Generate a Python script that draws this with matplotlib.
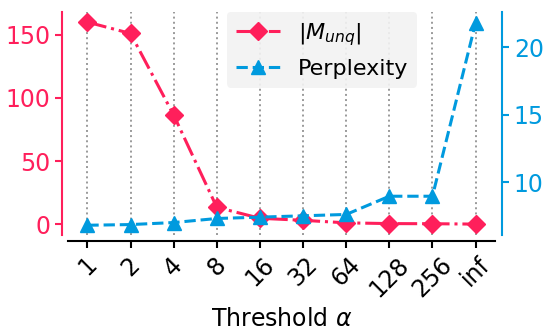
import matplotlib
matplotlib.use('Agg')
import matplotlib.pyplot as plt

thresholds = ['1', '2', '4', '8', '16', '32', '64', '128', '256', 'inf']
m_unq = [160, 151, 86.5, 13.5, 4.8, 3.2, 1.2, 0.6, 0.5, 0.2]
perplexity = [6.8, 6.85, 7.0, 7.3, 7.4, 7.5, 7.6, 8.95, 8.95, 21.8]

red = '#FF1F5B'
blue = '#009ADE'
fs = 17

fig = plt.figure(figsize=(5.5, 3.33), dpi=100)
ax = fig.add_axes([0.1236, 0.294, 0.7764, 0.67])
ax2 = ax.twinx()

# spines first (moving them resets the ticks)
for a in (ax, ax2):
    a.spines['top'].set_visible(False)
ax2.spines['left'].set_visible(False)
ax2.spines['bottom'].set_visible(False)
ax.spines['right'].set_visible(False)
ax.spines['left'].set_position(('outward', 4))
ax.spines['bottom'].set_position(('outward', 4))
ax2.spines['right'].set_position(('outward', 5))
ax.spines['left'].set_color(red)
ax2.spines['right'].set_color(blue)
for s in (ax.spines['left'], ax.spines['bottom'], ax2.spines['right']):
    s.set_linewidth(1.5)

x = list(range(len(thresholds)))
l1, = ax.plot(x, m_unq, '-.', color=red, marker='D', markersize=9.5,
              linewidth=2.2, label=r'$|M_{unq}|$', zorder=3)
l2, = ax2.plot(x, perplexity, '--', color=blue, marker='^', markersize=10.5,
               linewidth=2.2, label='Perplexity', zorder=3)

ax.set_xticks(x)
ax.set_xticklabels(thresholds, rotation=45, fontsize=fs)
ax.set_xlabel(r'Threshold $\alpha$', fontsize=fs)
ax.grid(axis='x', linestyle=':', color='gray', linewidth=1.4, alpha=0.8)
ax.set_axisbelow(True)

ax.set_ylim(-8.5, 168)
ax.set_yticks([0, 50, 100, 150])
ax2.set_ylim(6.07, 22.6)
ax2.set_yticks([10, 15, 20])

ax.tick_params(axis='y', colors=red, labelsize=fs, length=5, width=1.5)
ax.tick_params(axis='x', length=5, width=1.5)
ax2.tick_params(axis='y', colors=blue, labelsize=fs, length=5, width=1.5)

leg = ax2.legend([l1, l2], [l1.get_label(), l2.get_label()], fontsize=16,
                 loc='upper left', bbox_to_anchor=(0.372, 1.0),
                 borderaxespad=0, frameon=True, fancybox=True)
leg.get_frame().set_facecolor('#f2f2f2')
leg.get_frame().set_edgecolor('none')
leg.get_frame().set_alpha(0.9)

fig.savefig('out.png', dpi=100)
